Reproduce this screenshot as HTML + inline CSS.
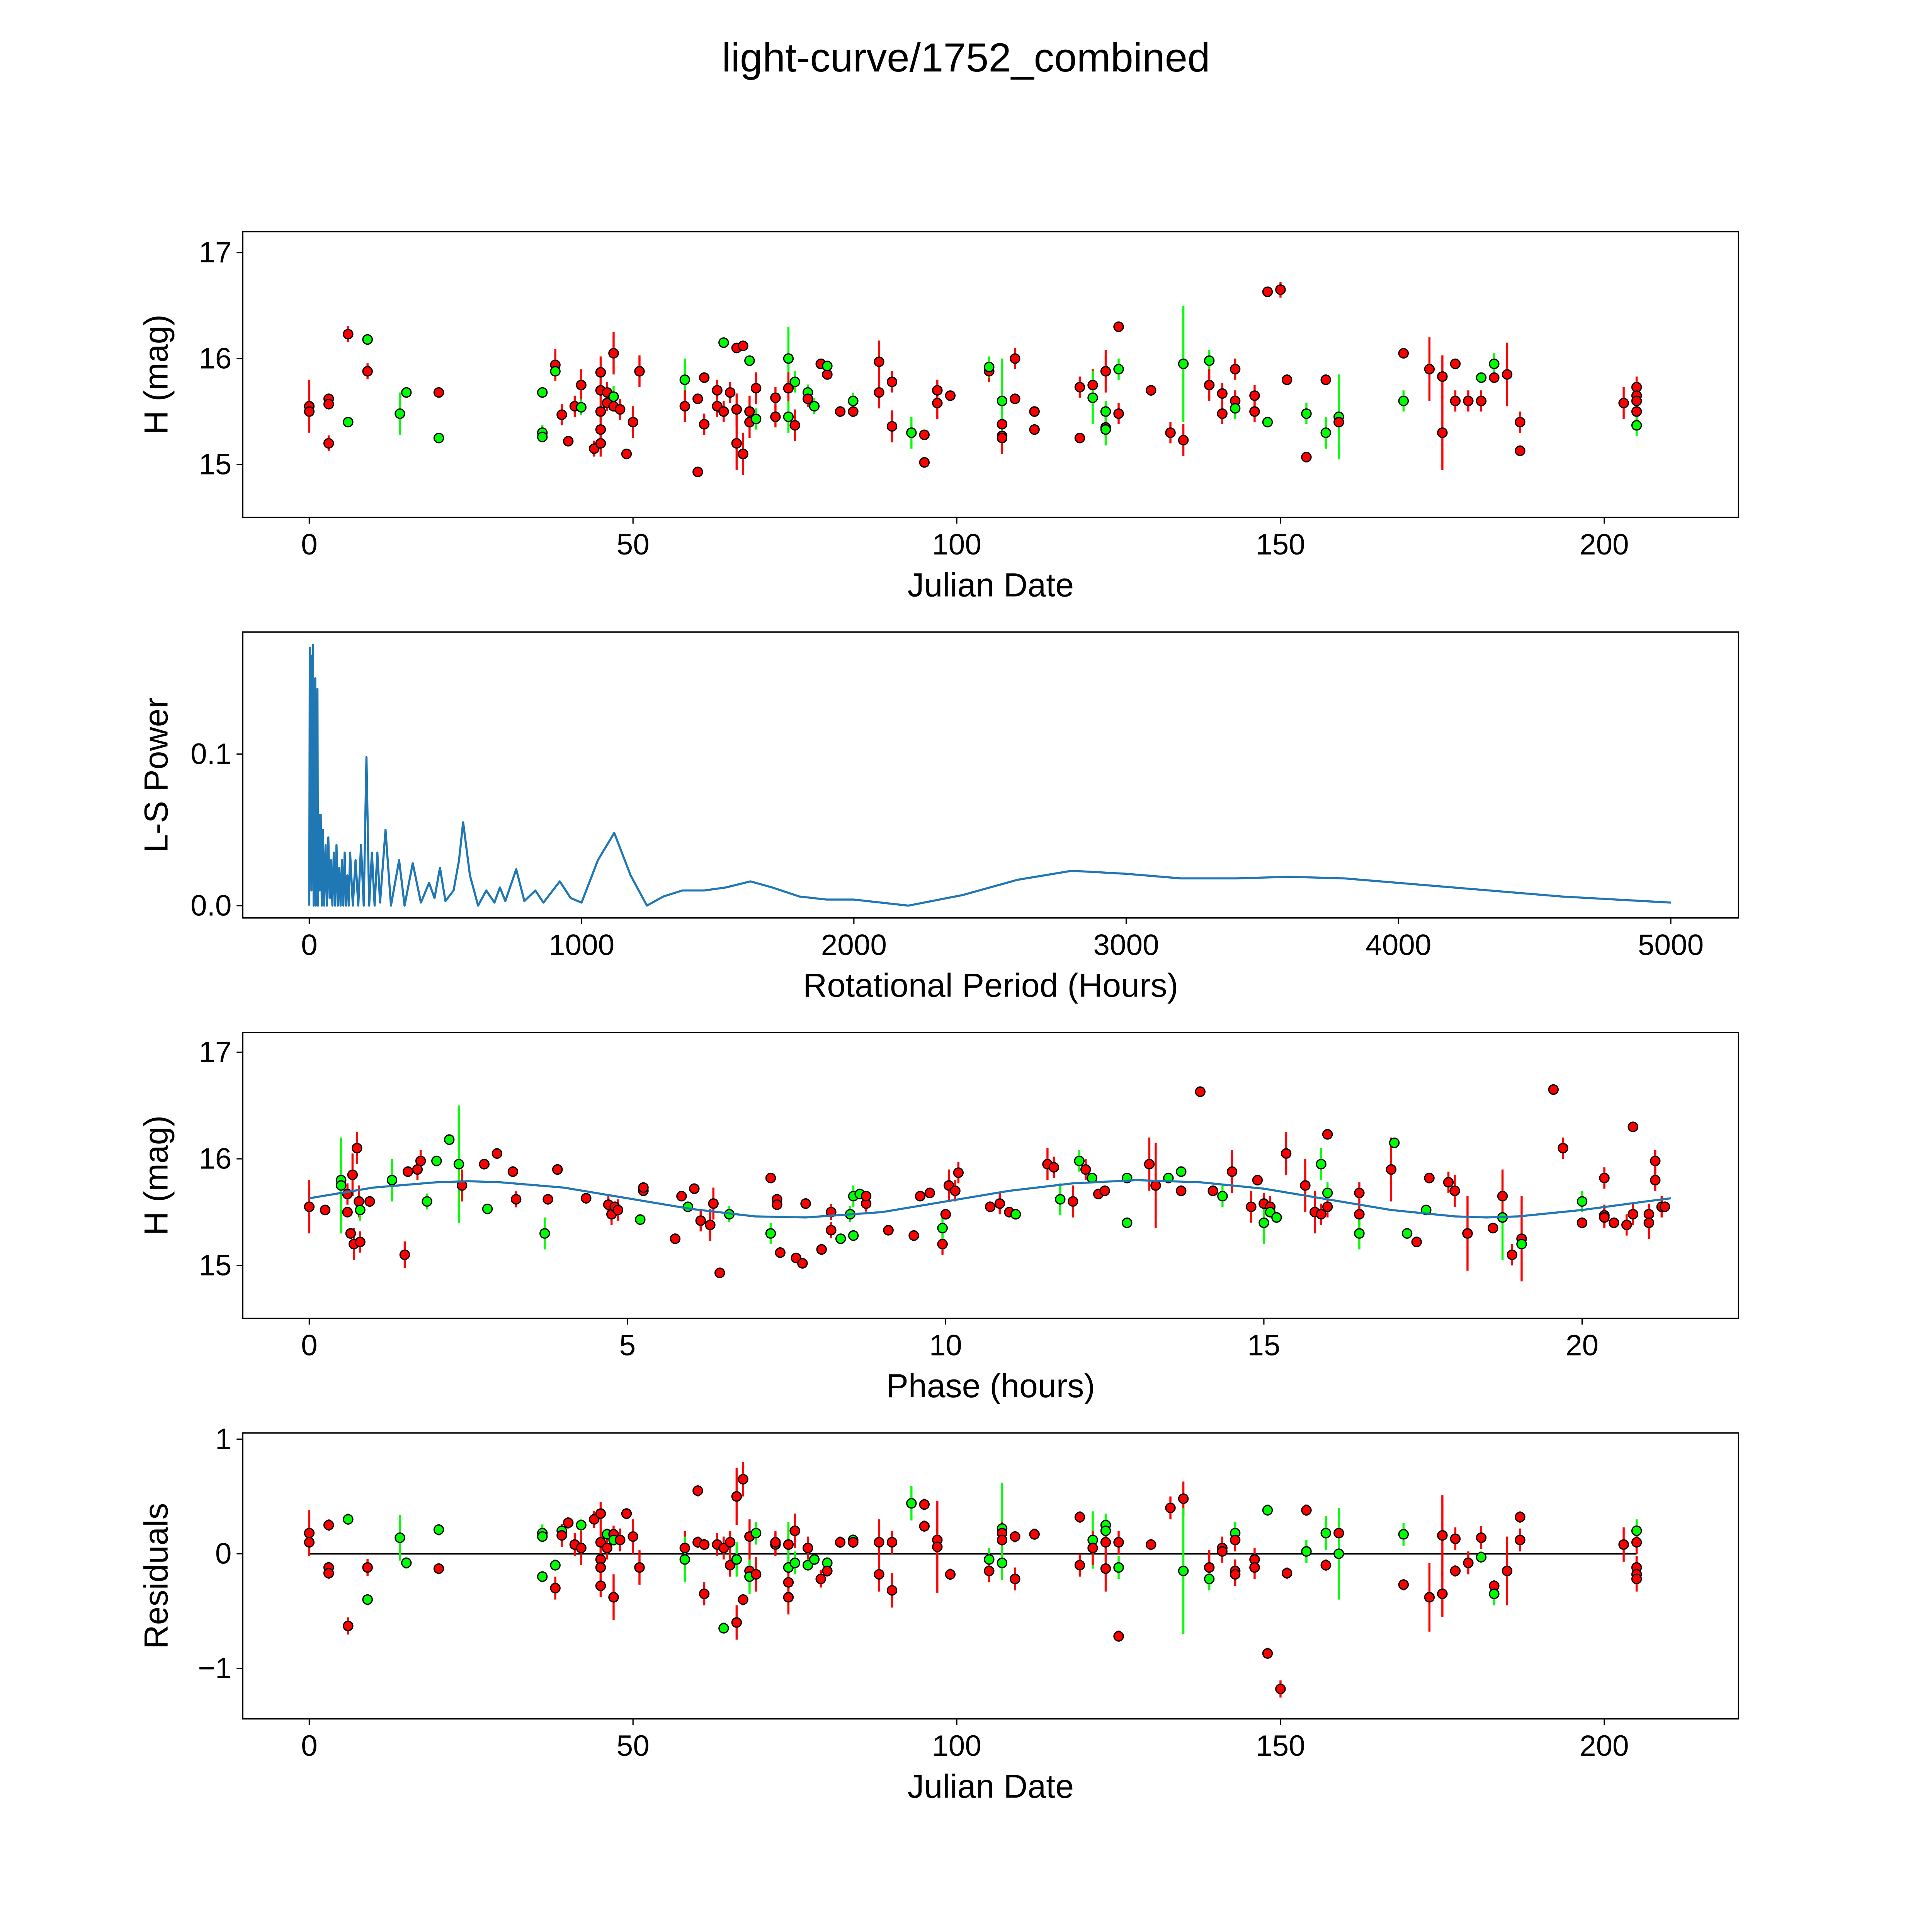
<!DOCTYPE html>
<html><head><meta charset="utf-8"><style>
html,body{margin:0;padding:0;background:#fff;overflow:hidden}
svg{display:block;width:100vw;height:100vw}
text{font-family:"Liberation Sans","DejaVu Sans",sans-serif;fill:#000}
</style></head><body>
<svg id="chart" viewBox="0 0 1568 1568" preserveAspectRatio="xMinYMin meet" xmlns="http://www.w3.org/2000/svg">
<rect width="1568" height="1568" fill="#fff"/>
<text x="784" y="58" font-size="33" text-anchor="middle">light-curve/1752_combined</text>
</svg>
<script>
// ---- Panel 1: observations
const obsDates=[0,0,3,3,3,6,6,9,9,14,15,20,20,36,36,36,38,38,39,40,41,42,42,44,45,45,45,45,45,46,46,47,47,47,48,49,50,51,58,58,60,60,61,61,63,63,64,64,65,66,66,66,67,67,68,68,68,69,69,72,72,74,74,74,75,75,77,77,78,79,80,80,82,84,84,88,88,90,90,93,95,95,97,97,99,105,105,107,107,107,107,109,109,112,112,119,119,121,121,123,123,123,123,125,125,125,130,133,135,135,139,139,141,141,143,143,143,146,146,148,148,150,151,154,154,157,157,159,159,169,169,173,175,175,177,177,179,181,181,183,183,185,187,187,203,205,205,205,205,205];
const obsMags=[15.55,15.5,15.62,15.57,15.2,16.23,15.4,16.18,15.88,15.48,15.68,15.68,15.25,15.68,15.3,15.26,15.94,15.88,15.47,15.22,15.55,15.75,15.54,15.15,15.2,15.7,15.87,15.5,15.33,15.58,15.68,15.55,16.05,15.64,15.52,15.1,15.4,15.88,15.8,15.55,15.62,14.93,15.82,15.38,15.55,15.7,16.15,15.5,15.68,15.52,15.2,16.1,16.12,15.1,15.4,15.5,15.98,15.72,15.43,15.63,15.45,16.0,15.72,15.45,15.78,15.37,15.68,15.62,15.55,15.95,15.85,15.93,15.5,15.6,15.5,15.97,15.68,15.78,15.36,15.3,15.28,15.02,15.7,15.58,15.65,15.88,15.92,15.27,15.25,15.38,15.6,16.0,15.62,15.5,15.33,15.73,15.25,15.75,15.63,15.88,15.35,15.5,15.33,16.3,15.9,15.48,15.7,15.3,15.95,15.23,15.98,15.75,15.48,15.67,15.9,15.6,15.53,15.5,15.65,15.4,16.63,16.65,15.8,15.48,15.07,15.8,15.3,15.45,15.4,16.05,15.6,15.9,15.83,15.3,15.95,15.6,15.6,15.6,15.82,15.95,15.82,15.85,15.4,15.13,15.58,15.73,15.65,15.6,15.5,15.37];
const obsErrs=[0.5,0.1,0.1,0.1,0.15,0.15,0.1,0.1,0.15,0.4,0.1,0.05,0.1,0.1,0.15,0.1,0.3,0.1,0.2,0.1,0.2,0.3,0.15,0.15,0.25,0.2,0.3,0.2,0.3,0.15,0.2,0.1,0.4,0.2,0.2,0.1,0.3,0.3,0.4,0.3,0.1,0.1,0.1,0.2,0.2,0.2,0.1,0.2,0.2,0.3,0.5,0.1,0.1,0.4,0.3,0.3,0.1,0.3,0.2,0.2,0.2,0.6,0.3,0.3,0.2,0.3,0.15,0.15,0.15,0.1,0.1,0.1,0.1,0.15,0.1,0.4,0.3,0.2,0.3,0.3,0.1,0.1,0.2,0.3,0.1,0.2,0.2,0.3,0.3,0.1,0.8,0.2,0.1,0.1,0.1,0.2,0.1,0.3,0.5,0.4,0.2,0.2,0.3,0.1,0.2,0.2,0.1,0.2,1.1,0.3,0.2,0.3,0.2,0.2,0.2,0.2,0.2,0.2,0.2,0.1,0.1,0.15,0.1,0.2,0.1,0.1,0.3,0.8,0.1,0.1,0.2,0.6,0.4,0.7,0.1,0.2,0.2,0.2,0.1,0.2,0.1,0.6,0.2,0.1,0.3,0.2,0.1,0.2,0.3,0.2];
const obsColors="rrrrrrggrggrg"+"gggrgrrrrg"+"rrrrrrrrrr"+"grrrr"
 +"g"+"rrrrrrr"+"g"+"rrrrrrrrr"+"g"+"r"+"g"+"rr"+"g"+"r"+"gg"+"r"+"g"+"r"+"g"+"rr"+"g"+"r"+"g"+"r"
 +"rrrr"+"g"+"rrrrrr"+"g"+"rrr"+"g"+"rrrrrrr"+"g"+"rr"+"gg"+"r"+"g"+"rrr"+"g"+"r"+"g"+"rrrrr"+"g"+"rr"+"g"+"rrr"+"g"+"rr"+"gg"+"r"
 +"rg"+"rrrrrrr"+"gg"+"rrrrrrrrr"+"g";
// ---- Panel 2: periodogram
const lsPeriods=[0,2,4,6,8,10,12,14,16,18,20,22,24,26,28,30,32,35,38,42,46,50,55,60,65,70,75,80,85,90,95,100,105,110,115,120,125,130,135,140,145,150,160,170,180,190,200,210,220,230,240,250,260,280,300,330,350,380,410,440,460,480,500,530,550,565,590,620,650,680,700,720,760,790,830,860,920,960,1000,1060,1120,1180,1240,1300,1370,1450,1530,1620,1700,1800,1900,2000,2100,2200,2400,2600,2800,3000,3200,3400,3600,3800,4000,4200,4400,4600,4800,5000];
const lsPowers=[0,0.17,0.02,0.12,0.01,0.165,0.03,0.172,0,0.11,0.02,0.15,0,0.08,0.01,0.143,0,0.06,0.01,0.06,0,0.05,0,0.04,0,0.045,0.005,0.03,0,0.035,0,0.04,0,0.025,0,0.03,0,0.035,0,0.02,0,0.035,0,0.03,0,0.04,0,0.098,0,0.035,0,0.035,0.002,0.05,0,0.03,0,0.028,0.002,0.015,0.005,0.025,0.003,0.01,0.03,0.055,0.02,0,0.01,0.002,0.012,0.003,0.024,0.003,0.01,0.002,0.016,0.005,0.002,0.03,0.048,0.02,0,0.006,0.01,0.01,0.012,0.016,0.012,0.006,0.004,0.004,0.002,0,0.007,0.017,0.023,0.021,0.018,0.018,0.019,0.018,0.015,0.012,0.009,0.006,0.004,0.002];
// ---- Panel 3: phased data
const phVals=[0,0.25,0.5,0.5,0.6,0.6,0.65,0.68,0.7,0.75,0.78,0.8,0.8,0.95,1.3,1.5,1.55,1.7,1.75,1.85,2.0,2.2,2.35,2.4,2.75,2.8,2.95,3.2,3.25,3.7,3.75,3.9,4.35,4.7,4.75,4.8,4.85,5.2,5.25,5.25,5.75,5.85,5.95,6.05,6.15,6.3,6.35,6.45,6.6,7.25,7.25,7.35,7.35,7.4,7.65,7.75,7.8,8.05,8.2,8.2,8.35,8.5,8.55,8.55,8.65,8.75,8.75,9.1,9.5,9.6,9.75,9.95,9.95,10.0,10.05,10.15,10.2,10.7,10.85,11.0,11.1,11.6,11.7,11.8,12.0,12.1,12.2,12.3,12.4,12.5,12.85,12.85,13.2,13.3,13.5,13.7,13.7,14.0,14.2,14.35,14.5,14.8,14.9,15.0,15.0,15.1,15.1,15.2,15.35,15.65,15.8,15.9,15.9,16.0,16.0,16.0,16.5,16.5,16.5,17.0,17.05,17.25,17.4,17.55,17.6,17.9,18.0,18.2,18.6,18.75,18.75,18.9,19.05,19.05,19.55,19.7,20.0,20.0,20.35,20.35,20.35,20.5,20.7,20.8,20.8,21.05,21.05,21.15,21.15,21.25,21.3];
const phMags=[15.55,15.52,15.8,15.75,15.67,15.5,15.3,15.85,15.2,16.1,15.6,15.22,15.52,15.6,15.8,15.1,15.88,15.9,15.98,15.6,15.98,16.18,15.95,15.75,15.95,15.53,16.05,15.88,15.62,15.3,15.62,15.9,15.63,15.57,15.48,15.55,15.52,15.43,15.7,15.73,15.25,15.65,15.55,15.72,15.42,15.38,15.58,14.93,15.48,15.82,15.3,15.62,15.57,15.12,15.07,15.02,15.58,15.15,15.33,15.5,15.25,15.48,15.65,15.28,15.67,15.58,15.65,15.33,15.28,15.65,15.68,15.2,15.35,15.48,15.75,15.7,15.87,15.55,15.58,15.5,15.48,15.95,15.92,15.62,15.6,15.98,15.9,15.82,15.67,15.7,15.82,15.4,15.95,15.75,15.82,15.88,15.7,16.63,15.7,15.65,15.88,15.55,15.8,15.58,15.4,15.55,15.5,15.45,16.05,15.75,15.5,15.95,15.48,16.23,15.68,15.55,15.68,15.48,15.3,15.9,16.15,15.3,15.22,15.52,15.82,15.78,15.7,15.3,15.35,15.45,15.65,15.1,15.25,15.2,16.65,16.1,15.6,15.4,15.82,15.47,15.45,15.4,15.38,16.3,15.48,15.48,15.4,15.98,15.8,15.55,15.55];
const phErrs=[0.5,0.1,0.1,0.9,0.2,0.1,0.1,0.4,0.3,0.3,0.3,0.2,0.2,0.1,0.4,0.25,0.1,0.2,0.2,0.15,0.1,0.1,1.1,0.3,0.1,0.1,0.1,0.1,0.15,0.3,0.1,0.1,0.1,0.2,0.2,0.1,0.2,0.1,0.1,0.1,0.1,0.1,0.1,0.1,0.2,0.3,0.3,0.1,0.15,0.1,0.2,0.1,0.1,0.1,0.1,0.1,0.1,0.1,0.15,0.15,0.1,0.15,0.2,0.1,0.1,0.15,0.1,0.1,0.1,0.1,0.1,0.2,0.2,0.1,0.3,0.2,0.2,0.1,0.2,0.1,0.1,0.3,0.2,0.3,0.3,0.2,0.2,0.1,0.1,0.1,0.1,0.1,0.5,0.8,0.1,0.1,0.1,0.1,0.1,0.2,0.4,0.3,0.1,0.2,0.4,0.2,0.1,0.1,0.4,0.5,0.4,0.3,0.2,0.1,0.2,0.2,0.2,0.2,0.3,0.6,0.1,0.1,0.1,0.1,0.1,0.2,0.3,0.7,0.1,0.8,0.5,0.2,0.8,0.1,0.1,0.2,0.2,0.1,0.2,0.2,0.2,0.1,0.2,0.1,0.2,0.2,0.3,0.2,0.2,0.2];
const phColors="rr"+"gg"+"rrrrrrrr"+"grg"+"rrrr"+"gggg"+"rr"+"g"+"rrr"+"g"+"rrrrrrr"+"g"+"rrrr"+"g"+"rrrrr"+"g"
 +"rg"+"rrrrrrrrr"+"ggggg"+"rrrrrrr"+"g"+"rrrrrrr"+"g"
 +"rrgrgrgrrggrrggrrrg"
 +"rrrrgrgg"+"rrr"+"gr"+"rgr"+"rrg"+"rgg"+"rgr"+"rrrr"+"gr"+"rrg"+"rr"+"gr"+"rrrrrrrrrrrrr";
const fitPhase=[0,1,2,2.5,3,4,5,6,7,7.8,9,10,11,12,13,14,15,16,17,18,18.5,19,20,21,21.4];
const fitMag=[15.63,15.73,15.78,15.79,15.78,15.73,15.63,15.53,15.46,15.45,15.5,15.6,15.7,15.77,15.8,15.78,15.72,15.62,15.52,15.46,15.45,15.46,15.52,15.6,15.63];
// ---- Panel 4: residuals
const resDates=[0,0,3,3,3,6,6,9,9,14,15,20,20,36,36,36,38,38,39,39,40,41,42,42,44,45,45,45,45,45,46,46,47,47,47,48,49,50,51,58,58,60,60,61,61,63,64,64,65,65,66,66,66,67,67,68,68,68,69,69,72,72,74,74,74,74,75,75,77,77,78,79,80,80,82,84,84,88,88,90,90,93,95,95,97,97,99,105,105,107,107,107,107,109,109,112,119,119,121,121,123,123,123,123,125,125,125,130,133,135,135,139,139,141,141,143,143,143,143,146,146,148,148,150,151,154,154,157,157,159,159,169,169,173,175,175,177,177,179,181,181,183,183,185,187,187,203,205,205,205,205,205];
const resVals=[0.18,0.1,0.25,-0.12,-0.17,0.3,-0.63,-0.12,-0.4,0.14,-0.08,0.21,-0.13,0.18,0.15,-0.2,-0.1,-0.3,0.2,0.16,0.27,0.08,0.25,0.05,0.3,0.35,0.1,-0.05,-0.12,-0.28,0.17,0.05,0.17,0.12,-0.38,0.12,0.35,0.15,-0.12,0.05,-0.05,0.55,0.1,0.08,-0.35,0.08,0.05,-0.65,0.1,-0.1,0.5,-0.05,-0.6,0.65,-0.4,0.15,-0.15,-0.2,0.18,-0.18,0.08,0.1,0.08,-0.12,-0.25,-0.38,0.2,-0.08,-0.1,0.05,-0.05,-0.22,-0.08,-0.15,0.1,0.12,0.1,0.1,-0.18,0.1,-0.32,0.44,0.43,0.24,0.12,0.06,-0.18,-0.05,-0.15,0.22,0.18,0.12,-0.08,0.15,-0.22,0.17,0.32,-0.1,0.12,0.05,0.25,0.2,0.1,-0.13,0.1,-0.12,-0.72,0.08,0.4,0.48,-0.15,-0.12,-0.22,0.05,0.02,0.18,0.12,-0.15,-0.18,-0.05,-0.12,0.38,-0.87,-1.18,-0.17,0.38,0.02,0.18,-0.1,0.18,0,0.17,-0.27,-0.38,0.16,-0.35,0.13,-0.15,-0.08,0.14,-0.03,-0.28,-0.35,-0.15,0.32,0.12,0.08,0.2,0.1,-0.12,-0.18,-0.22];
const resErrs=[0.4,0.1,0.1,0.1,0.1,0.1,0.15,0.15,0.1,0.4,0.1,0.1,0.05,0.15,0.1,0.1,0.1,0.2,0.1,0.2,0.1,0.2,0.1,0.3,0.15,0.2,0.3,0.2,0.3,0.2,0.1,0.2,0.15,0.1,0.4,0.2,0.1,0.3,0.3,0.3,0.4,0.1,0.1,0.1,0.2,0.2,0.2,0.1,0.2,0.2,0.5,0.3,0.3,0.3,0.1,0.3,0.3,0.3,0.2,0.3,0.2,0.2,0.3,0.8,0.2,0.3,0.3,0.2,0.1,0.2,0.1,0.15,0.1,0.1,0.1,0.1,0.1,0.4,0.3,0.2,0.3,0.3,0.1,0.1,0.2,0.8,0.1,0.2,0.2,0.8,0.2,0.1,0.3,0.1,0.2,0.1,0.1,0.2,0.5,0.3,0.2,0.2,0.3,0.4,0.2,0.2,0.1,0.1,0.2,0.3,1.1,0.3,0.2,0.2,0.2,0.2,0.2,0.2,0.2,0.2,0.2,0.1,0.1,0.15,0.1,0.1,0.2,0.3,0.1,0.1,0.8,0.2,0.1,0.6,0.7,0.4,0.2,0.1,0.2,0.2,0.1,0.1,0.2,0.6,0.1,0.2,0.3,0.2,0.2,0.2,0.3,0.1];
const resColors="rrrrrgrrggggr"
 +"ggggrgrrrgr"+"rrrrrr"+"grrgrrrrr"
 +"rg"+"rrrrrr"+"g"+"rrr"+"g"+"rrrrr"+"gg"+"rrrr"+"g"+"rrr"+"gg"+"r"+"g"+"r"+"g"+"rr"+"g"+"r"
 +"rrrr"+"g"+"rrrrr"+"gr"+"grrg"+"rrrrr"+"gr"+"ggrr"+"rgr"+"rrr"+"g"+"rg"+"rr"+"grrr"+"rr"+"grrrr"+"gg"+"rr"+"g"
 +"gr"+"rrrrrrr"+"g"+"r"+"g"+"rrrr"+"g"+"rrrr";

const NS="http://www.w3.org/2000/svg";
const svg=document.getElementById('chart');
function mk(tag,attrs,parent){const e=document.createElementNS(NS,tag);for(const k in attrs)e.setAttribute(k,attrs[k]);(parent||svg).appendChild(e);return e;}
function lin(d0,d1,p0,p1){return v=>p0+(v-d0)*(p1-p0)/(d1-d0);}
function colOf(s,i){return s[i]==='g'?'#00ff00':'#ff0000';}

function axes(name,top,xs,xticks,xlabels,ys,yticks,ylabels,xtitle,ytitle){
  const g=mk('g',{});
  
  
  const L=197,B=top+232;
  xticks.forEach((t,i)=>{const x=xs(t);mk('line',{x1:x,x2:x,y1:B,y2:B+5,stroke:'#000','stroke-width':1},g);
    const tx=mk('text',{x:x,y:B+30,'font-size':24,'text-anchor':'middle'},g);tx.textContent=xlabels[i];
    
    });
  yticks.forEach((t,i)=>{const y=ys(t);mk('line',{x1:L-5,x2:L,y1:y,y2:y,stroke:'#000','stroke-width':1},g);
    const tx=mk('text',{x:L-9,y:y+8,'font-size':24,'text-anchor':'end'},g);tx.textContent=ylabels[i];
    
    });
  const xt=mk('text',{x:804,y:B+64,'font-size':27,'text-anchor':'middle'},g);xt.textContent=xtitle;
  
  
  const cy=top+116;
  const yt=mk('text',{x:0,y:0,'font-size':27,'text-anchor':'middle',transform:`translate(136,${cy}) rotate(-90)`},g);yt.textContent=ytitle;
  
  
  return g;
}
function frame(top){const r=mk('rect',{x:197,y:top,width:1214,height:232,fill:'none',stroke:'#000','stroke-width':1.1});
  
  }
function scatter(name,xs,ys,X,Y,E,C){
  const g=mk('g',{});
  
  
  X.forEach((v,i)=>{const c=colOf(C,i);const x=xs(v);const e=E[i]||0.1;
    const l=mk('line',{x1:x,x2:x,y1:ys(Y[i]-e/2),y2:ys(Y[i]+e/2),stroke:c,'stroke-width':1.7},g);
    
    });
  X.forEach((v,i)=>{const c=colOf(C,i);
    const p=mk('circle',{cx:xs(v),cy:ys(Y[i]),r:3.8,fill:c,stroke:'#000','stroke-width':1},g);
    
    });
}
// Panel 1
{const top=188,xs=lin(0,200,251,1302),ys=lin(15,17,377,205);
 axes('light-curve-axes',top,xs,[0,50,100,150,200],['0','50','100','150','200'],ys,[15,16,17],['15','16','17'],'Julian Date','H (mag)');
 scatter('light-curve-points',xs,ys,obsDates,obsMags,obsErrs,obsColors);frame(top);}
// Panel 2
{const top=513,xs=lin(0,5000,251,1356),ys=lin(0,0.1,735,612);
 axes('periodogram-axes',top,xs,[0,1000,2000,3000,4000,5000],['0','1000','2000','3000','4000','5000'],ys,[0,0.1],['0.0','0.1'],'Rotational Period (Hours)','L-S Power');
 const pts=lsPeriods.map((p,i)=>xs(p).toFixed(2)+','+ys(lsPowers[i]).toFixed(2)).join(' ');
 const pl=mk('polyline',{points:pts,fill:'none',stroke:'#1f77b4','stroke-width':1.7,'stroke-linejoin':'round'});
 
 
 frame(top);}
// Panel 3
{const top=838,xs=lin(0,20,251,1284),ys=lin(15,17,1027,854);
 axes('phase-axes',top,xs,[0,5,10,15,20],['0','5','10','15','20'],ys,[15,16,17],['15','16','17'],'Phase (hours)','H (mag)');
 scatter('phase-points',xs,ys,phVals,phMags,phErrs,phColors);
 const pts=fitPhase.map((p,i)=>xs(p).toFixed(2)+','+ys(fitMag[i]).toFixed(2)).join(' ');
 const pl=mk('polyline',{points:pts,fill:'none',stroke:'#1f77b4','stroke-width':1.7});
 
 
 frame(top);}
// Panel 4
{const top=1163,xs=lin(0,200,251,1302),ys=lin(-1,1,1354,1168);
 axes('residuals-axes',top,xs,[0,50,100,150,200],['0','50','100','150','200'],ys,[-1,0,1],['\u22121','0','1'],'Julian Date','Residuals');
 const zl=mk('line',{x1:xs(0),x2:xs(205),y1:ys(0),y2:ys(0),stroke:'#000','stroke-width':1.4});
 
 
 scatter('residual-points',xs,ys,resDates,resVals,resErrs,resColors);frame(top);}
</script>
</body></html>
